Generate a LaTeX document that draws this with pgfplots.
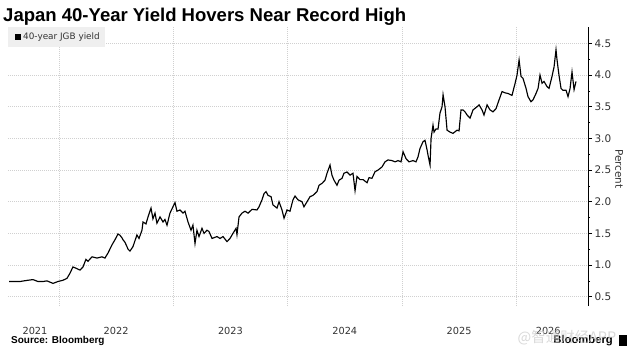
\documentclass[border=0pt]{standalone}
\usepackage{fontspec}
\setmainfont{DejaVu Sans}
\newfontfamily\titlefont{Liberation Sans}
\newfontfamily\cjk{Noto Sans CJK SC}
\usepackage{pgfplots}
\pgfplotsset{compat=1.18}
\definecolor{gridc}{HTML}{D0D0D0}
\definecolor{legbg}{HTML}{EFEFEF}
\definecolor{txt}{HTML}{333333}
\pgfplotstableread{
x y
2021.563 0.74
2021.659 0.74
2021.729 0.76
2021.773 0.77
2021.816 0.74
2021.860 0.74
2021.895 0.75
2021.948 0.71
2021.991 0.74
2022.035 0.76
2022.070 0.79
2022.096 0.87
2022.122 0.97
2022.149 0.95
2022.184 0.92
2022.210 0.97
2022.236 1.09
2022.254 1.06
2022.289 1.13
2022.332 1.11
2022.376 1.13
2022.402 1.11
2022.429 1.19
2022.464 1.32
2022.490 1.40
2022.516 1.49
2022.534 1.47
2022.551 1.43
2022.560 1.40
2022.577 1.36
2022.595 1.29
2022.604 1.25
2022.621 1.22
2022.647 1.29
2022.682 1.475
2022.700 1.42
2022.726 1.55
2022.735 1.68
2022.761 1.65
2022.779 1.76
2022.805 1.90
2022.822 1.73
2022.840 1.82
2022.857 1.66
2022.884 1.76
2022.910 1.68
2022.927 1.72
2022.945 1.63
2022.971 1.82
2022.997 1.92
2023.015 1.985
2023.032 1.85
2023.059 1.87
2023.085 1.82
2023.102 1.85
2023.129 1.68
2023.155 1.55
2023.172 1.63
2023.190 1.34
2023.207 1.55
2023.225 1.45
2023.251 1.58
2023.269 1.50
2023.295 1.55
2023.312 1.53
2023.339 1.42
2023.382 1.45
2023.409 1.42
2023.435 1.45
2023.470 1.37
2023.496 1.42
2023.522 1.50
2023.549 1.58
2023.557 1.48
2023.575 1.76
2023.601 1.82
2023.627 1.85
2023.654 1.82
2023.689 1.88
2023.732 1.87
2023.750 1.92
2023.776 2.03
2023.794 2.13
2023.811 2.16
2023.829 2.10
2023.855 2.08
2023.872 1.95
2023.907 1.90
2023.925 2.00
2023.951 1.87
2023.969 1.74
2023.995 1.87
2024.021 1.85
2024.047 2.03
2024.065 2.09
2024.091 2.03
2024.126 2.00
2024.143 1.92
2024.170 2.00
2024.196 2.08
2024.222 2.10
2024.257 2.16
2024.275 2.26
2024.301 2.29
2024.327 2.34
2024.345 2.45
2024.371 2.58
2024.388 2.42
2024.406 2.34
2024.432 2.26
2024.450 2.34
2024.476 2.37
2024.493 2.45
2024.520 2.47
2024.546 2.42
2024.572 2.45
2024.590 2.175
2024.607 2.40
2024.633 2.35
2024.660 2.35
2024.695 2.30
2024.712 2.38
2024.738 2.37
2024.765 2.475
2024.791 2.50
2024.826 2.55
2024.852 2.63
2024.878 2.66
2024.913 2.65
2024.940 2.63
2024.966 2.65
2024.992 2.63
2025.010 2.79
2025.036 2.68
2025.062 2.63
2025.097 2.65
2025.123 2.63
2025.141 2.71
2025.158 2.84
2025.185 2.95
2025.202 2.97
2025.220 2.82
2025.228 2.74
2025.246 2.58
2025.255 3.00
2025.272 3.21
2025.281 3.10
2025.298 3.15
2025.316 3.15
2025.333 3.40
2025.351 3.50
2025.360 3.69
2025.377 3.50
2025.395 3.13
2025.421 3.10
2025.447 3.08
2025.482 3.13
2025.500 3.12
2025.517 3.45
2025.535 3.45
2025.552 3.42
2025.570 3.37
2025.596 3.32
2025.622 3.45
2025.657 3.50
2025.675 3.53
2025.701 3.45
2025.718 3.37
2025.745 3.53
2025.771 3.45
2025.797 3.42
2025.823 3.47
2025.850 3.61
2025.876 3.74
2025.902 3.72
2025.928 3.71
2025.963 3.68
2025.990 3.87
2026.007 4.00
2026.025 4.24
2026.042 3.98
2026.059 3.95
2026.086 3.79
2026.103 3.66
2026.129 3.58
2026.147 3.61
2026.173 3.71
2026.191 3.79
2026.208 4.00
2026.226 3.87
2026.243 3.90
2026.269 3.82
2026.287 3.79
2026.313 3.98
2026.331 4.13
2026.348 4.40
2026.357 4.24
2026.374 4.00
2026.392 3.79
2026.409 3.76
2026.436 3.76
2026.453 3.66
2026.471 3.79
2026.488 4.05
2026.506 3.77
2026.523 3.90
}\jgb
\begin{document}
\begin{tikzpicture}[x=1bp,y=1bp]
\useasboundingbox (0,0) rectangle (635,356);
\fill[white] (0,0) rectangle (635,356);
\begin{axis}[
  at={(8bp,50bp)}, anchor=south west,
  width=580bp, height=279bp, scale only axis,
  xmin=2021.554, xmax=2026.628,
  ymin=0.353, ymax=4.76,
  axis y line*=right, axis x line*=bottom,
  x axis line style={draw=none},
  y axis line style={black, line width=0.9bp, -},
  xtick={2022,2023,2024,2025,2026},
  xticklabels={},
  xtick style={draw=none},
  xmajorgrids,
  extra x ticks={2021.79,2022.5,2023.5,2024.5,2025.5,2026.28},
  extra x tick labels={2021,2022,2023,2024,2025,2026},
  extra x tick style={xmajorgrids=false, tick style={draw=none}},
  xticklabel style={anchor=center, yshift=-21bp, font=\fontsize{9.8}{11}\selectfont, text=txt},
  ytick={0.5,1,1.5,2,2.5,3,3.5,4,4.5},
  minor ytick={0.75,1.25,1.75,2.25,2.75,3.25,3.75,4.25},
  ymajorgrids,
  tick align=outside,
  ytick style={black, line width=0.7bp},
  major tick length=4bp, minor tick length=2bp,
  yticklabel style={font=\fontsize{10.5}{12}\selectfont, text=txt, xshift=-1bp, /pgf/number format/.cd, fixed, fixed zerofill, precision=1},
  /pgf/number format/assume math mode=true,
  major grid style={gridc, line width=0.6bp, dash pattern=on 1bp off 1bp},
  clip=false,
]
\addplot[black, line width=1.15bp, no marks] table[x=x,y=y] {\jgb};
\end{axis}
\node[anchor=base west, inner sep=0, font=\titlefont\bfseries\fontsize{18.6}{20}\selectfont] at (3,335) {Japan 40-Year Yield Hovers Near Record High};
\fill[legbg] (8,309) rectangle (105,329);
\fill[black] (15,316) rectangle (21,322);
\node[anchor=west, inner sep=0, font=\fontsize{8.9}{10}\selectfont, text=txt] at (23,319) {40-year JGB yield};
\node[rotate=-90, font=\fontsize{10.5}{12}\selectfont, text=txt] at (619,187) {Percent};
\node[anchor=west, inner sep=0, font=\titlefont\bfseries\fontsize{10}{12}\selectfont] at (11,15) {Source: Bloomberg};
\node[anchor=east, inner sep=0, font=\titlefont\bfseries\fontsize{11.3}{12}\selectfont] at (613,15) {Bloomberg};
\fill[black] (619,10) rectangle (627,21);
\node[font=\cjk\fontsize{14.5}{16}\selectfont, text=gray!40, opacity=0.75] at (567,18) {@智通财经APP};
\end{tikzpicture}
\end{document}
